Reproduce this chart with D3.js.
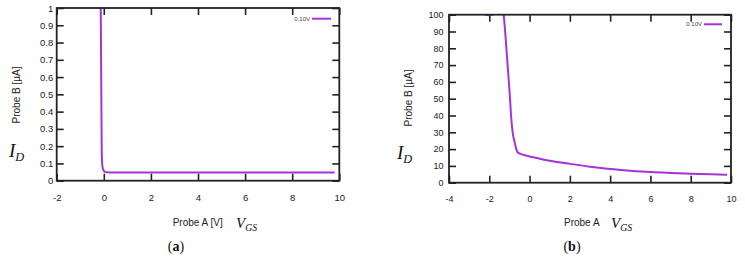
<!DOCTYPE html>
<html>
<head>
<meta charset="utf-8">
<script src="https://cdn.jsdelivr.net/npm/d3@7"></script>
<style>
  html, body { margin: 0; padding: 0; background: #fff; }
  svg { display: block; }
  .tick text { font-family: "Liberation Sans", Arial, sans-serif; fill: #222; }
</style>
</head>
<body>
<svg id="chart" width="745" height="260"></svg>
<script>
// ---------- data ----------
const legendLabel = "0.10V";

// panel (a)
const xA = [-0.13, -0.12, -0.11, -0.10, -0.09, -0.07, -0.04, 0.0, 0.05, 0.1, 0.5, 2, 4, 6, 8, 9.8];
const yA = [1.0, 0.8, 0.6, 0.4, 0.2, 0.1, 0.07, 0.058, 0.051, 0.049, 0.048, 0.048, 0.048, 0.048, 0.048, 0.048];
const xTicksA = [-2, 0, 2, 4, 6, 8, 10];
const yTicksA = [0, 0.1, 0.2, 0.3, 0.4, 0.5, 0.6, 0.7, 0.8, 0.9, 1];

// panel (b)
const xB = [-2.25, -2.0, -1.75, -1.5, -1.32, -1.29, -1.22, -1.09, -0.97, -0.92, -0.84, -0.74, -0.66, -0.58, -0.45, -0.2, 0, 0.5, 1, 2, 3, 4, 5, 6, 7, 8, 9, 9.8];
const yB = [100.4, 99.7, 100.4, 101.5, 101, 100, 91, 70, 50, 40, 30, 24, 20, 18, 17.2, 16.2, 15.6, 14.3, 13.1, 11.2, 9.5, 8.1, 7.1, 6.3, 5.8, 5.4, 5.0, 4.7];
const xTicksB = [-4, -2, 0, 2, 4, 6, 8, 10];
const yTicksB = [0, 10, 20, 30, 40, 50, 60, 70, 80, 90, 100];

const svg = d3.select("#chart");
const curveColor = "#a633d6";
const frameColor = "#222";
const plainFmt = d => String(+d.toFixed(2));

function panel(cfg) {
  const { id, x0, x1, y0, y1, xDom, yDom, xs, ys, xTicks, yTicks, yPad, xPad, fontSize } = cfg;
  const x = d3.scaleLinear().domain(xDom).range([x0, x1]);
  const y = d3.scaleLinear().domain(yDom).range([y1, y0]);
  const g = svg.append("g");
  const tickLen = 7;

  svg.append("clipPath").attr("id", "clip" + id)
    .append("rect").attr("x", x0).attr("y", y0).attr("width", x1 - x0).attr("height", y1 - y0);

  const styleAxis = sel => {
    sel.select(".domain").remove();
    sel.selectAll(".tick line").attr("stroke", frameColor).attr("stroke-width", 1.6);
    sel.selectAll(".tick text").style("font-size", fontSize + "px");
  };

  g.append("g").attr("transform", `translate(0,${y1})`)
    .call(d3.axisBottom(x).tickValues(xTicks).tickSizeInner(-tickLen).tickSizeOuter(0).tickPadding(xPad).tickFormat(plainFmt))
    .call(styleAxis);
  g.append("g").attr("transform", `translate(0,${y0})`)
    .call(d3.axisTop(x).tickValues(xTicks).tickSizeInner(-tickLen).tickSizeOuter(0).tickFormat(""))
    .call(styleAxis);
  g.append("g").attr("transform", `translate(${x0},0)`)
    .call(d3.axisLeft(y).tickValues(yTicks).tickSizeInner(-tickLen).tickSizeOuter(0).tickPadding(yPad).tickFormat(plainFmt))
    .call(styleAxis);
  g.append("g").attr("transform", `translate(${x1},0)`)
    .call(d3.axisRight(y).tickValues(yTicks).tickSizeInner(-tickLen).tickSizeOuter(0).tickFormat(""))
    .call(styleAxis);

  const pts = xs.map((v, i) => [v, ys[i]]);
  g.append("path")
    .datum(pts)
    .attr("clip-path", `url(#clip${id})`)
    .attr("fill", "none")
    .attr("stroke", curveColor)
    .attr("stroke-width", 2)
    .attr("stroke-linejoin", "round")
    .attr("d", d3.line().x(d => x(d[0])).y(d => y(d[1])).curve(d3.curveMonotoneX));

  g.append("rect")
    .attr("x", x0).attr("y", y0).attr("width", x1 - x0).attr("height", y1 - y0)
    .attr("fill", "none").attr("stroke", frameColor).attr("stroke-width", 1.8);

  return { x, y, g };
}

panel({ id: "a", x0: 56.7, x1: 339.3, y0: 8, y1: 180.7, xDom: [-2, 10], yDom: [0, 1],
  xs: xA, ys: yA, xTicks: xTicksA, yTicks: yTicksA, yPad: 3.5, xPad: 14, fontSize: 9.5 });
panel({ id: "b", x0: 449, x1: 731, y0: 14.7, y1: 182.7, xDom: [-4, 10], yDom: [0, 100],
  xs: xB, ys: yB, xTicks: xTicksB, yTicks: yTicksB, yPad: 5.5, xPad: 12.5, fontSize: 9 });

function legend(tx, ty, lx0, lx1) {
  svg.append("text").attr("x", tx).attr("y", ty + 2).attr("text-anchor", "end")
    .style("font-family", "Liberation Sans, Arial, sans-serif").style("font-size", "6px").attr("fill", "#444")
    .text(legendLabel);
  svg.append("line").attr("x1", lx0).attr("x2", lx1).attr("y1", ty).attr("y2", ty)
    .attr("stroke", curveColor).attr("stroke-width", 2);
}
legend(310, 18.7, 312, 331);
legend(702, 24.3, 704, 722);

const sans = "Liberation Sans, Arial, sans-serif";
const serif = "Liberation Serif, Times New Roman, serif";
function yLabel(cx, cy) {
  svg.append("text").attr("transform", `translate(${cx},${cy}) rotate(-90)`)
    .attr("text-anchor", "middle").attr("dominant-baseline", "central")
    .style("font-family", sans).style("font-size", "10px").attr("fill", "#222")
    .text("Probe B [µA]");
}
yLabel(16.5, 95);
yLabel(408, 98);

function xLabel(x, y, t) {
  svg.append("text").attr("x", x).attr("y", y)
    .style("font-family", sans).style("font-size", "10px").attr("fill", "#222").text(t);
}
xLabel(172.7, 225.5, "Probe A [V]");
xLabel(564, 225.5, "Probe A");

function mathSub(x, y, main, sub, size) {
  const t = svg.append("text").attr("x", x).attr("y", y)
    .style("font-family", serif).style("font-style", "italic").style("font-size", size + "px").attr("fill", "#111");
  t.append("tspan").text(main);
  t.append("tspan").attr("dy", size * 0.22).style("font-size", (size * 0.65) + "px").text(sub);
}
mathSub(9, 157, "I", "D", 19);
mathSub(397, 159, "I", "D", 19);
mathSub(236, 228, "V", "GS", 15);
mathSub(611, 228, "V", "GS", 15);

function caption(cx, y, letter) {
  const t = svg.append("text").attr("x", cx).attr("y", y).attr("text-anchor", "middle")
    .style("font-family", serif).style("font-size", "14px").attr("fill", "#111");
  t.append("tspan").text("(");
  t.append("tspan").style("font-weight", "bold").text(letter);
  t.append("tspan").text(")");
}
caption(176, 251, "a");
caption(572, 251, "b");
</script>
</body>
</html>
